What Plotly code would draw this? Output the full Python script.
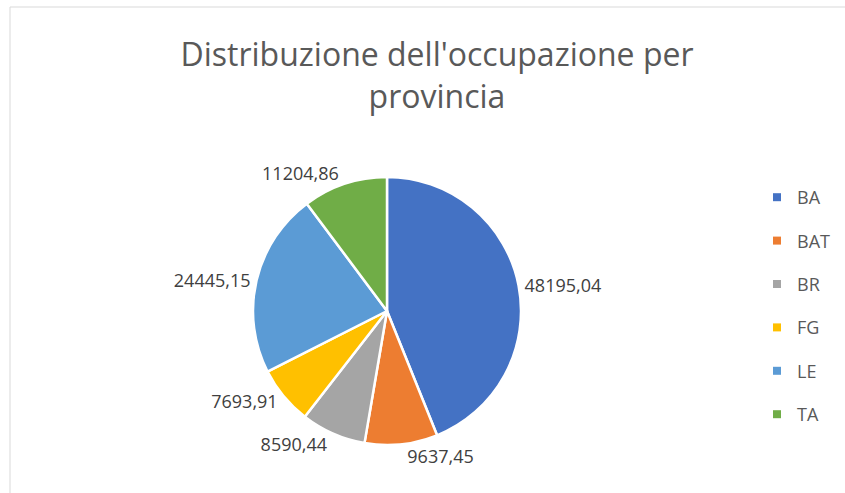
import plotly.graph_objects as go

provinces = ["BA", "BAT", "BR", "FG", "LE", "TA"]
occupation = [48195.04, 9637.45, 8590.44, 7693.91, 24445.15, 11204.86]
slice_colors = ["#4472C4", "#ED7D31", "#A5A5A5", "#FFC000", "#5B9BD5", "#70AD47"]

W, H = 845, 493

fig = go.Figure()

fig.add_trace(
    go.Pie(
        labels=provinces,
        values=occupation,
        sort=False,
        direction="clockwise",
        rotation=0,
        marker=dict(colors=slice_colors, line=dict(color="white", width=2.5)),
        textposition="outside",
        texttemplate="%{value:.2f}",
        textfont=dict(family="Open Sans", size=18, color="#404040"),
        showlegend=False,
        hoverinfo="label+value+percent",
        domain=dict(x=[253 / W, 521 / W], y=[1 - 445 / H, 1 - 177 / H]),
    )
)

# legend entries as dummy markers so the vertical spacing can follow the original
for name, color in zip(provinces, slice_colors):
    fig.add_trace(
        go.Scatter(
            x=[None], y=[None], mode="markers", name=name, legendgroup=name,
            marker=dict(symbol="square", size=8, color=color),
        )
    )

fig.update_layout(
    width=W,
    height=H,
    separators=",.",
    paper_bgcolor="white",
    plot_bgcolor="white",
    margin=dict(l=0, r=0, t=0, b=0),
    title=dict(
        text="Distribuzione dell'occupazione per<br>provincia",
        x=437 / W,
        xanchor="center",
        y=1 - 66 / H,
        yanchor="top",
        font=dict(family="Open Sans", size=32, color="#595959"),
    ),
    xaxis=dict(visible=False),
    yaxis=dict(visible=False),
    legend=dict(
        x=757 / W,
        xanchor="left",
        y=1 - 179 / H,
        yanchor="top",
        font=dict(family="Open Sans", size=18, color="#595959"),
        tracegroupgap=17,
        itemwidth=30,
        bgcolor="rgba(0,0,0,0)",
    ),
    shapes=[
        dict(
            type="rect", xref="paper", yref="paper",
            x0=10 / W, x1=1.2, y0=-0.2, y1=1 - 7 / H,
            line=dict(color="#D9D9D9", width=1),
        )
    ],
)

# drop the default page margin so the chart fills the window exactly
fig.write_html(
    "out.html",
    config={"displayModeBar": False},
    post_script="document.body.style.margin='0';",
)
